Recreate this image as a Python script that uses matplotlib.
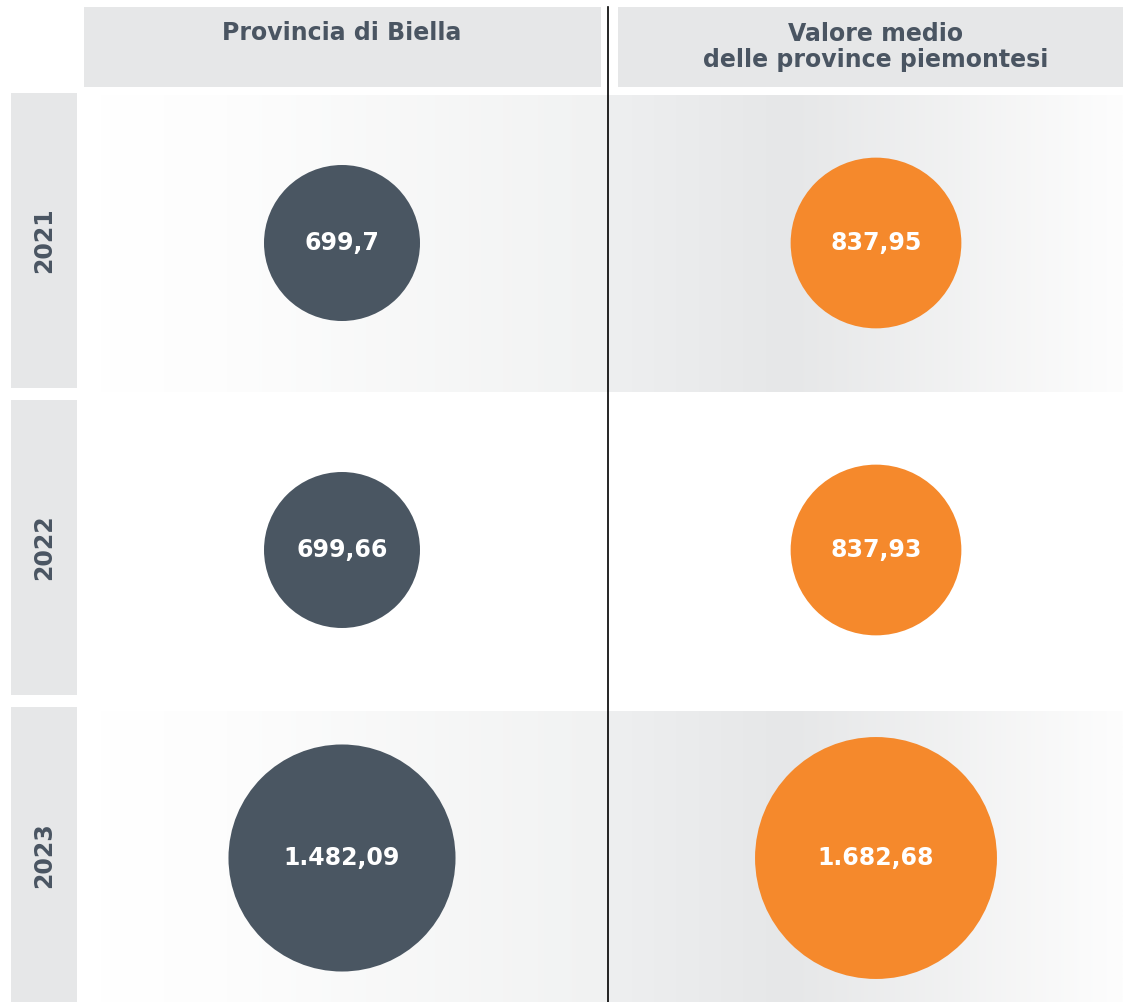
import numpy as np
import matplotlib
matplotlib.use("Agg")
import matplotlib.pyplot as plt
from matplotlib.patches import Circle, Rectangle
from matplotlib.colors import LinearSegmentedColormap

plt.rcParams['font.family'] = ['DejaVu Sans']

years = ['2021', '2022', '2023']
biella = [699.7, 699.66, 1482.09]
biella_labels = ['699,7', '699,66', '1.482,09']
piemonte = [837.95, 837.93, 1682.68]
piemonte_labels = ['837,95', '837,93', '1.682,68']
headers = ['Provincia di Biella', 'Valore medio\ndelle province piemontesi']

W, H = 1123, 1002
TEXT = '#4a5562'
BOX = '#e6e7e8'
DARK = '#4a5662'
ORANGE = '#f5892c'

fig = plt.figure(figsize=(W / 100, H / 100), dpi=100)
ax = fig.add_axes([0, 0, 1, 1])
ax.set_xlim(0, W)
ax.set_ylim(H, 0)
ax.axis('off')

col_x = [342, 876]
row_top = [93, 400, 707]
row_bottom = [388, 695, 1002]
row_cy = [243, 550, 858]

# shaded cell backgrounds (rows 1 and 3 only)
left_cmap = LinearSegmentedColormap.from_list('l', [(0, '#ffffff'), (0.25, '#fdfdfd'), (1, '#f1f2f2')])
right_cmap = LinearSegmentedColormap.from_list('r', [(0, '#eeeff0'), (0.35, '#e6e7e8'), (1, '#fdfdfd')])
grad = np.linspace(0, 1, 256).reshape(1, -1)
for i in (0, 2):
    top = row_top[i] + 2 if i == 0 else row_top[i] + 4
    bot = row_bottom[i] + 4 if i == 0 else row_bottom[i]
    ax.imshow(grad, cmap=left_cmap, extent=(100, 608, bot, top), aspect='auto', zorder=1)
    ax.imshow(grad, cmap=right_cmap, extent=(608, W, bot, top), aspect='auto', zorder=1)
ax.set_xlim(0, W)
ax.set_ylim(H, 0)

# column headers
ax.add_patch(Rectangle((84, 7), 517, 80, color=BOX, lw=0, zorder=2))
ax.add_patch(Rectangle((618, 7), W - 618, 80, color=BOX, lw=0, zorder=2))
ax.text(col_x[0], 33, headers[0], ha='center', va='center', fontsize=17,
        fontweight='bold', color=TEXT, zorder=3)
ax.text(col_x[1], 47, headers[1], ha='center', va='center', fontsize=17,
        fontweight='bold', color=TEXT, linespacing=1.1, zorder=3)

# row labels
for i, y in enumerate(years):
    ax.add_patch(Rectangle((11, row_top[i]), 66, row_bottom[i] - row_top[i],
                           color=BOX, lw=0, zorder=2))
    ax.text(44, row_cy[i] - 3, y, ha='center', va='center', rotation=90,
            fontsize=17, fontweight='bold', color=TEXT, zorder=3)

# bubbles, area proportional to value
k = 78 / np.sqrt(biella[0])
for i in range(len(years)):
    for cx, vals, labs, col in ((col_x[0], biella, biella_labels, DARK),
                                (col_x[1], piemonte, piemonte_labels, ORANGE)):
        r = k * np.sqrt(vals[i])
        ax.add_patch(Circle((cx, row_cy[i]), r, color=col, lw=0, zorder=4))
        ax.text(cx, row_cy[i], labs[i], ha='center', va='center', fontsize=17,
                fontweight='bold', color='white', zorder=5)

# divider
ax.plot([608, 608], [7, H], color='black', lw=1.2, zorder=6)

fig.savefig('out.png', dpi=100)
